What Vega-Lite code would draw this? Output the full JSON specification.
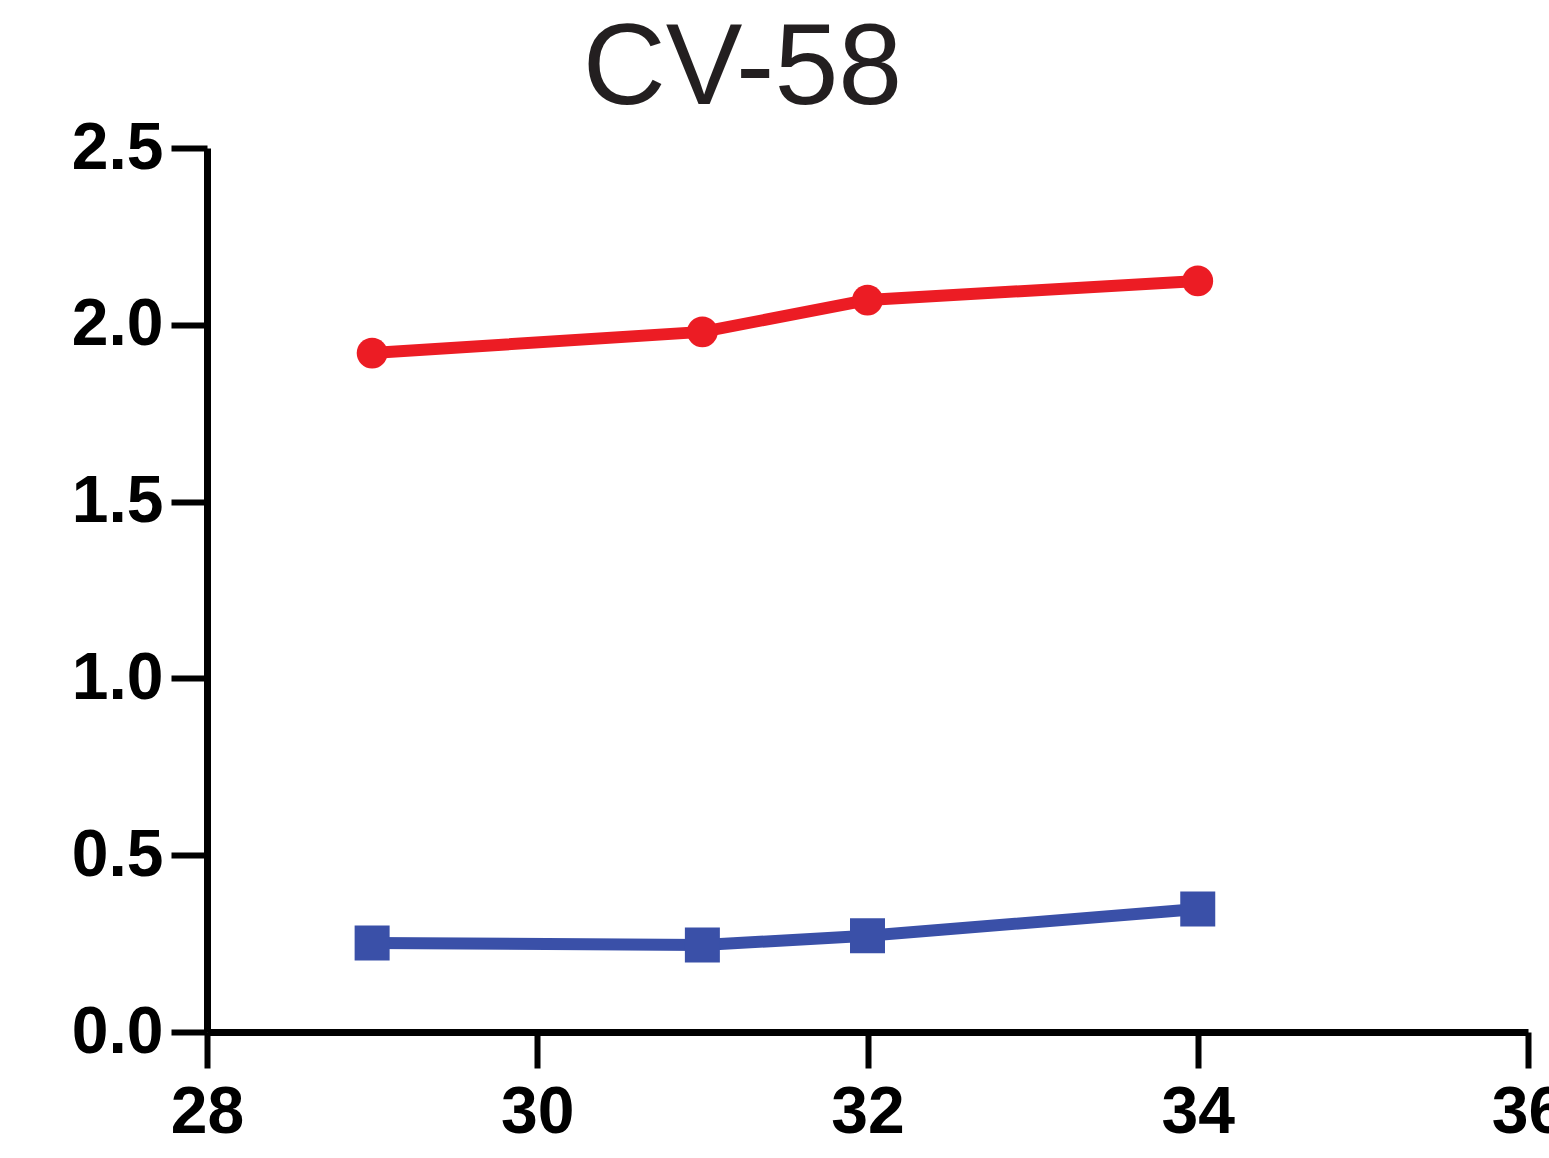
{
  "$schema": "https://vega.github.io/schema/vega-lite/v6.json",
  "autosize": "none",
  "width": 1321,
  "height": 884,
  "padding": {"left": 207, "top": 148, "right": 21, "bottom": 126},
  "background": "white",
  "title": {
    "text": "CV-58",
    "font": "Liberation Sans",
    "fontSize": 115,
    "fontWeight": "normal",
    "color": "#231f20",
    "frame": "group",
    "anchor": "middle",
    "dx": -125,
    "offset": -13
  },
  "config": {
    "view": {"stroke": null},
    "axis": {
      "grid": false,
      "domainColor": "black",
      "domainWidth": 7,
      "tickColor": "black",
      "tickWidth": 6,
      "tickSize": 36,
      "labelFont": "Liberation Sans",
      "labelFontWeight": "bold",
      "labelFontSize": 66,
      "labelColor": "black",
      "title": null
    }
  },
  "data": {
    "values": [
      {"series": "A", "x": 29, "y": 1.92},
      {"series": "A", "x": 31, "y": 1.98},
      {"series": "A", "x": 32, "y": 2.07},
      {"series": "A", "x": 34, "y": 2.124},
      {"series": "B", "x": 29, "y": 0.252},
      {"series": "B", "x": 31, "y": 0.246},
      {"series": "B", "x": 32, "y": 0.272},
      {"series": "B", "x": 34, "y": 0.348}
    ]
  },
  "encoding": {
    "x": {
      "field": "x",
      "type": "quantitative",
      "scale": {"domain": [28, 36], "nice": false, "zero": false},
      "axis": {"values": [28, 30, 32, 34, 36], "labelPadding": 12, "labelFlush": false, "labelOverlap": false}
    },
    "y": {
      "field": "y",
      "type": "quantitative",
      "scale": {"domain": [0, 2.5], "nice": false},
      "axis": {"values": [0, 0.5, 1, 1.5, 2, 2.5], "format": ".1f", "labelPadding": 8, "labelFlush": false, "labelOverlap": false}
    },
    "color": {
      "field": "series",
      "type": "nominal",
      "scale": {"domain": ["A", "B"], "range": ["#ec1c24", "#3a50a8"]},
      "legend": null
    }
  },
  "layer": [
    {"mark": {"type": "line", "strokeWidth": 12}},
    {
      "mark": {"type": "point", "filled": true, "opacity": 1},
      "encoding": {
        "shape": {
          "field": "series",
          "type": "nominal",
          "scale": {"domain": ["A", "B"], "range": ["circle", "square"]},
          "legend": null
        },
        "size": {
          "field": "series",
          "type": "nominal",
          "scale": {"domain": ["A", "B"], "range": [950, 1225]},
          "legend": null
        }
      }
    }
  ]
}
